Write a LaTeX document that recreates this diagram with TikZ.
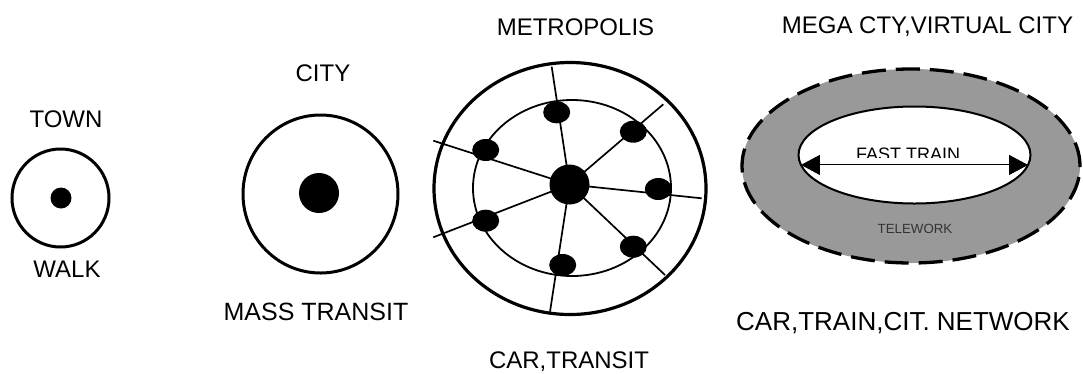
\documentclass[tikz,border=0pt]{standalone}
\usepackage{fontspec}
\setmainfont{Liberation Sans}
\usetikzlibrary{shapes.geometric,arrows.meta}
\pgfdeclarelayer{background}
\pgfsetlayers{background,main}
\definecolor{ringgray}{RGB}{153,153,153}
\definecolor{telegray}{RGB}{51,51,51}
\begin{document}
\begin{tikzpicture}[x=1bp,y=-1bp,
  lbl/.style={font=\fontsize{24bp}{28bp}\selectfont, anchor=base, inner sep=0pt},
  ring/.style={draw, line width=3bp, ellipse, inner sep=0pt, outer sep=0pt},
  thinring/.style={draw, line width=1.8bp, ellipse, inner sep=0pt, outer sep=0pt},
  blob/.style={fill=black, ellipse, inner sep=0pt, outer sep=0pt},
  station/.style={blob, minimum width=27bp, minimum height=22bp},
  spoke/.style={line width=1.7bp},
  fastarrow/.style={line width=1bp, {Triangle[length=19bp,width=20bp]}-{Triangle[length=19bp,width=20bp]}}
]
\useasboundingbox (0,0) rectangle (1083,373);

% ---------- TOWN ----------
\node[lbl] (town) at (66,127.3) {TOWN};
\node[ring, minimum width=97bp, minimum height=98bp] (towncirc) at (60.5,198) {};
\node[blob, minimum width=21bp, minimum height=21bp] (towndot) at (61,198) {};
\node[lbl] (walk) at (67,277.3) {WALK};

% ---------- CITY ----------
\node[lbl] (city) at (323,81.7) {CITY};
\node[ring, minimum width=155bp, minimum height=158bp] (citycirc) at (320.5,194) {};
\node[blob, minimum width=40bp, minimum height=40bp] (citydot) at (319,193) {};
\node[lbl, font=\fontsize{25bp}{29bp}\selectfont] (mass) at (316,320) {MASS TRANSIT};

% ---------- METROPOLIS ----------
\node[lbl] (metro) at (575.5,35) {METROPOLIS};
\node[ring, line width=3.2bp, minimum width=272bp, minimum height=252bp] (outer) at (570,188.5) {};
\node[thinring, minimum width=198bp, minimum height=176bp] (inner) at (572,188) {};
\node[blob, minimum width=40bp, minimum height=40bp] (hub) at (569.5,184.5) {};
\node[station] (s1) at (556.7,112.3) {};
\node[station] (s2) at (633.3,131.7) {};
\node[station] (s3) at (658.3,189) {};
\node[station] (s4) at (633.3,246.7) {};
\node[station] (s5) at (562.7,265) {};
\node[station] (s6) at (485.7,220.7) {};
\node[station] (s7) at (485.7,150) {};
\coordinate (e1) at (551.7,66.7);
\coordinate (e2) at (663.3,104.3);
\coordinate (e3) at (701.7,198.3);
\coordinate (e4) at (665,275);
\coordinate (e5) at (550,311.7);
\coordinate (e6) at (433.3,237.3);
\coordinate (e7) at (433.3,140.7);
\begin{pgfonlayer}{background}
  \foreach \e in {e1,e2,e3,e4,e5,e6,e7}
    \draw[spoke] (hub.center) -- (\e);
\end{pgfonlayer}
\node[lbl] (cartransit) at (569,368) {CAR,TRANSIT};

% ---------- MEGA CITY ----------
\node[lbl] (mega) at (927.5,33.5) {MEGA CTY,VIRTUAL CITY};
\node[ring, line width=3.3bp, fill=ringgray, dash pattern=on 24bp off 10bp,
      minimum width=338bp, minimum height=194bp] (megaout) at (911,166) {};
\node[draw, line width=2bp, fill=white, ellipse, inner sep=0pt, outer sep=0pt,
      minimum width=232bp, minimum height=97bp] (megain) at (914.5,155) {};
\begin{scope}
  \clip (840,140) rectangle (980,157);
  \node[font=\fontsize{18bp}{21bp}\selectfont, anchor=base, inner sep=0pt] (fast) at (908,160) {FAST TRAIN};
\end{scope}
\draw[fastarrow] (megain.185) -- (megain.355);
\node[font=\fontsize{13.3bp}{16bp}\selectfont, text=telegray, anchor=base, inner sep=0pt] (tele) at (915,233.3) {TELEWORK};
\node[lbl, font=\fontsize{26bp}{30bp}\selectfont] (network) at (903,330) {CAR,TRAIN,CIT. NETWORK};
\end{tikzpicture}
\end{document}
